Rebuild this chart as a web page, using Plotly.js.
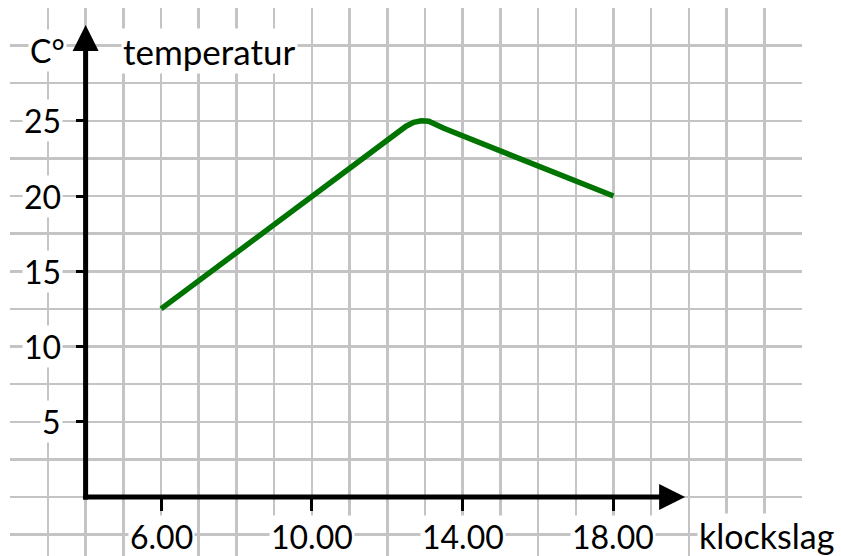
<!DOCTYPE html>
<html><head><meta charset="utf-8">
<script src="https://cdn.plot.ly/plotly-3.0.1.min.js"></script>
<style>html,body{margin:0;padding:0;background:#fff}</style>
</head><body><div id="chart" style="width:841px;height:556px"></div>
<script>
// data
const hours = [6, 10, 12.3, 12.5, 12.7, 12.9, 13.1, 13.3, 13.5, 18];
const temps = [12.5, 20, 24.31, 24.64, 24.9, 25.0, 24.97, 24.74, 24.5, 20];
const xTickVals = [6, 10, 14, 18];
const xTickText = ['6.00', '10.00', '14.00', '18.00'];
const yTickVals = [5, 10, 15, 20, 25];
const yTickText = ['5', '10', '15', '20', '25'];
const xTitle = 'klockslag';
const yTitle = 'temperatur';
const yUnit = 'C°';
// axis arrows (origin and tips)
const axisOrigin = [4, 0];
const xArrowTip = 19.9;
const yArrowTip = 31.36;

const gridColor = '#c4c4c4';
const font = 'Lato, "Open Sans", sans-serif';
const labelSize = 32;

const traces = [
  {x: hours, y: temps, type: 'scatter', mode: 'lines',
   line: {color: '#007400', width: 5.5}, cliponaxis: false, hoverinfo: 'skip'},
  {x: [axisOrigin[0] - 0.066, xArrowTip - 0.35], y: [axisOrigin[1], axisOrigin[1]], type: 'scatter', mode: 'lines',
   line: {color: '#000', width: 5}, cliponaxis: false, hoverinfo: 'skip'},
  {x: [axisOrigin[0], axisOrigin[0]], y: [axisOrigin[1] - 0.166, yArrowTip - 0.86], type: 'scatter', mode: 'lines',
   line: {color: '#000', width: 5}, cliponaxis: false, hoverinfo: 'skip'},
  {x: [axisOrigin[0], xArrowTip], y: [yArrowTip, axisOrigin[1]], type: 'scatter', mode: 'markers',
   marker: {symbol: ['arrow-up', 'arrow-right'], size: 26, color: '#000', line: {width: 0}},
   cliponaxis: false, hoverinfo: 'skip'}
];

const annotations = [];
xTickVals.forEach((v, i) => annotations.push({
  x: v, xref: 'x', y: 1 - 536 / 556, yref: 'paper', text: xTickText[i],
  showarrow: false, xanchor: 'center', yanchor: 'middle', bgcolor: '#fff', borderpad: 1,
  font: {family: font, size: labelSize, color: '#000'}
}));
yTickVals.forEach((v, i) => annotations.push({
  x: 63 / 841, xref: 'paper', y: v, yref: 'y', text: yTickText[i],
  showarrow: false, xanchor: 'right', yanchor: 'middle', bgcolor: '#fff', borderpad: 1,
  font: {family: font, size: labelSize, color: '#000'}
}));
annotations.push({x: 47 / 841, xref: 'paper', y: 1 - 50 / 556, yref: 'paper', text: yUnit,
  showarrow: false, xanchor: 'center', yanchor: 'middle', bgcolor: '#fff', borderpad: 1,
  font: {family: font, size: labelSize, color: '#000'}});
annotations.push({x: 121 / 841, xref: 'paper', y: 1 - 51 / 556, yref: 'paper', text: yTitle,
  showarrow: false, xanchor: 'left', yanchor: 'middle', bgcolor: '#fff', borderpad: 1,
  font: {family: font, size: 35, color: '#000'}});
annotations.push({x: 697 / 841, xref: 'paper', y: 1 - 535 / 556, yref: 'paper', text: xTitle,
  showarrow: false, xanchor: 'left', yanchor: 'middle', bgcolor: '#fff', borderpad: 1,
  font: {family: font, size: 34, color: '#000'}});

const layout = {
  width: 841, height: 556,
  margin: {l: 0, r: 0, t: 0, b: 0},
  paper_bgcolor: '#fff', plot_bgcolor: '#fff',
  showlegend: false,
  xaxis: {
    domain: [10.2 / 841, 802 / 841], range: [2, 23],
    anchor: 'free', position: 1 - 497 / 556,
    showline: false, zeroline: false,
    showgrid: true, gridcolor: gridColor, gridwidth: 2.5,
    tickmode: 'array', tickvals: xTickVals, showticklabels: false,
    ticks: 'outside', ticklen: 13, tickwidth: 3, tickcolor: '#000',
    minor: {tick0: 0, dtick: 1, showgrid: true, gridcolor: gridColor, gridwidth: 2.5, ticks: ''},
    fixedrange: true
  },
  yaxis: {
    domain: [0, 1 - 7.9 / 556], range: [-3.92, 32.5],
    anchor: 'free', position: 85.6 / 841,
    showline: false, zeroline: false,
    showgrid: true, gridcolor: gridColor, gridwidth: 2.5,
    tickmode: 'array', tickvals: yTickVals, showticklabels: false,
    ticks: 'outside', ticklen: 10, tickwidth: 3, tickcolor: '#000',
    minor: {tick0: 0, dtick: 2.5, showgrid: true, gridcolor: gridColor, gridwidth: 2.5, ticks: ''},
    fixedrange: true
  },
  annotations: annotations
};

Plotly.newPlot('chart', traces, layout, {staticPlot: true, displayModeBar: false});
</script>
</body></html>
